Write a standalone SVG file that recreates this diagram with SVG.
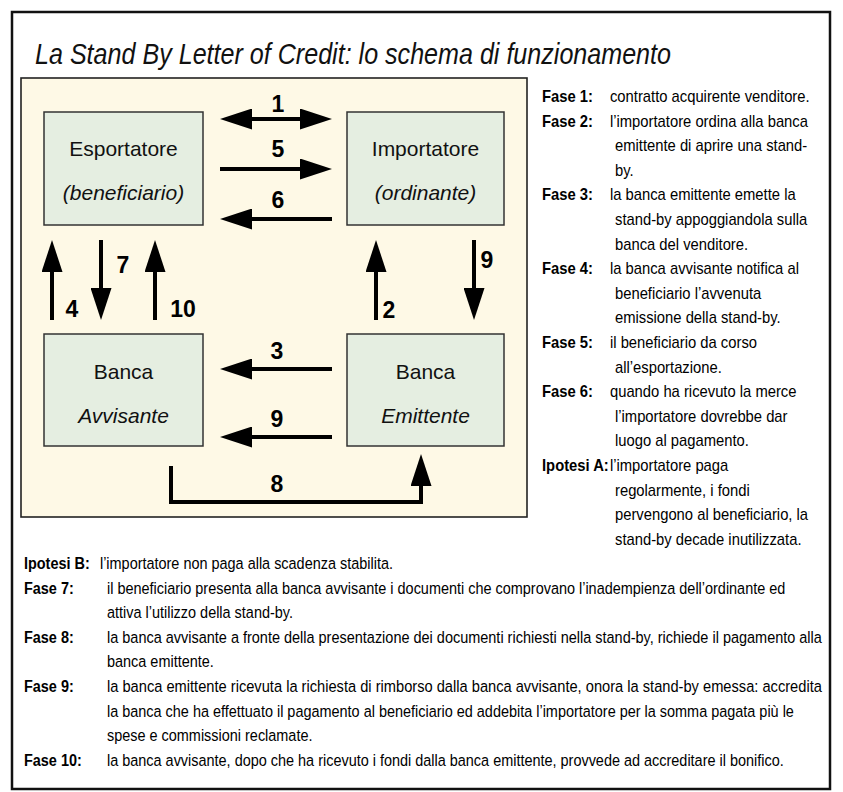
<svg xmlns="http://www.w3.org/2000/svg" width="843" height="792" viewBox="0 0 843 792">
<style>
.frame{fill:#fff;stroke:#111;stroke-width:2.5}
.panel{fill:#fef9e6;stroke:#222;stroke-width:1.6}
.box{fill:#e5eee1;stroke:#333;stroke-width:1.5}
.ntx{font-family:"Liberation Sans",Arial,sans-serif;font-size:21px;fill:#111;text-anchor:middle}
.it{font-style:italic}
.num{font-family:"Liberation Sans",Arial,sans-serif;font-size:23px;font-weight:bold;fill:#000}
.mid{text-anchor:middle}
.arr{stroke:#000;stroke-width:4;fill:none;marker-end:url(#ah)}
.lab{font-family:"Liberation Sans",Arial,sans-serif;font-size:17px;font-weight:bold;fill:#000}
.txt{font-family:"Liberation Sans",Arial,sans-serif;font-size:17px;fill:#000}
.title{font-family:"Liberation Sans",Arial,sans-serif;font-size:30px;font-style:italic;fill:#111}
</style>
<defs>
<marker id="ah" viewBox="0 0 32 21" markerWidth="32" markerHeight="21" refX="20" refY="10.5" markerUnits="userSpaceOnUse" orient="auto-start-reverse">
<path d="M0,0 L32,10.5 L0,21 z" fill="#000"/>
</marker>
</defs>
<rect class="frame" x="12" y="12" width="818" height="777"/>
<text class="title" x="35" y="64" textLength="636" lengthAdjust="spacingAndGlyphs">La Stand By Letter of Credit: lo schema di funzionamento</text>
<rect class="panel" x="21" y="78" width="506" height="439"/>

<g id="esportatore">
<rect class="box" x="44" y="112" width="159" height="113"/>
<text class="ntx" x="123.5" y="156">Esportatore</text>
<text class="ntx it" x="123.5" y="200">(beneficiario)</text>
</g>
<g id="importatore">
<rect class="box" x="347" y="112" width="157" height="113"/>
<text class="ntx" x="425.5" y="156">Importatore</text>
<text class="ntx it" x="425.5" y="200">(ordinante)</text>
</g>
<g id="banca-avvisante">
<rect class="box" x="44" y="334" width="159" height="112"/>
<text class="ntx" x="123.5" y="379">Banca</text>
<text class="ntx it" x="123.5" y="423">Avvisante</text>
</g>
<g id="banca-emittente">
<rect class="box" x="347" y="334" width="157" height="112"/>
<text class="ntx" x="425.5" y="379">Banca</text>
<text class="ntx it" x="425.5" y="423">Emittente</text>
</g>

<g id="connectors">
<line class="arr" x1="232" y1="119" x2="320" y2="119" style="marker-start:url(#ah)"/>
<line class="arr" x1="220" y1="169" x2="320" y2="169"/>
<line class="arr" x1="332" y1="219" x2="232" y2="219"/>
<line class="arr" x1="332" y1="369" x2="232" y2="369"/>
<line class="arr" x1="332" y1="437" x2="232" y2="437"/>
<line class="arr" x1="52" y1="320" x2="52" y2="252"/>
<line class="arr" x1="101" y1="240" x2="101" y2="308"/>
<line class="arr" x1="155" y1="320" x2="155" y2="252"/>
<line class="arr" x1="376" y1="320" x2="376" y2="252"/>
<line class="arr" x1="474" y1="240" x2="474" y2="308"/>
<polyline class="arr" points="171,466 171,502 421,502 421,466" stroke-linejoin="miter"/>
<text class="num mid" x="278" y="112">1</text>
<text class="num mid" x="278" y="157">5</text>
<text class="num mid" x="278" y="208">6</text>
<text class="num mid" x="277" y="359">3</text>
<text class="num mid" x="277" y="427">9</text>
<text class="num mid" x="277" y="492">8</text>
<text class="num mid" x="72" y="317">4</text>
<text class="num mid" x="123" y="273">7</text>
<text class="num mid" x="183" y="317">10</text>
<text class="num mid" x="389" y="318">2</text>
<text class="num mid" x="487" y="268">9</text>
</g>

<g id="legend-right" transform="scale(0.87 1)">
<text class="lab" x="623" y="102">Fase 1:</text>
<text class="txt" x="701.1" y="102">contratto acquirente venditore.</text>
<text class="lab" x="623" y="126.6">Fase 2:</text>
<text class="txt" x="701.1" y="126.6">l’importatore ordina alla banca</text>
<text class="txt" x="706.9" y="151.2">emittente di aprire una stand-</text>
<text class="txt" x="706.9" y="175.8">by.</text>
<text class="lab" x="623" y="200.4">Fase 3:</text>
<text class="txt" x="701.1" y="200.4">la banca emittente emette la</text>
<text class="txt" x="706.9" y="225">stand-by appoggiandola sulla</text>
<text class="txt" x="706.9" y="249.6">banca del venditore.</text>
<text class="lab" x="623" y="274.2">Fase 4:</text>
<text class="txt" x="701.1" y="274.2">la banca avvisante notifica al</text>
<text class="txt" x="706.9" y="298.8">beneficiario l’avvenuta</text>
<text class="txt" x="706.9" y="323.4">emissione della stand-by.</text>
<text class="lab" x="623" y="348">Fase 5:</text>
<text class="txt" x="701.1" y="348">il beneficiario da corso</text>
<text class="txt" x="706.9" y="372.6">all’esportazione.</text>
<text class="lab" x="623" y="397.2">Fase 6:</text>
<text class="txt" x="701.1" y="397.2">quando ha ricevuto la merce</text>
<text class="txt" x="706.9" y="421.8">l’importatore dovrebbe dar</text>
<text class="txt" x="706.9" y="446.4">luogo al pagamento.</text>
<text class="lab" x="623" y="471">Ipotesi A:</text>
<text class="txt" x="701.1" y="471">l’importatore paga</text>
<text class="txt" x="706.9" y="495.6">regolarmente, i fondi</text>
<text class="txt" x="706.9" y="520.2">pervengono al beneficiario, la</text>
<text class="txt" x="706.9" y="544.8">stand-by decade inutilizzata.</text>
</g>

<g id="legend-bottom" transform="scale(0.85 1)">
<text class="lab" x="28.2" y="569">Ipotesi B:</text>
<text class="txt" x="117.6" y="569">l’importatore non paga alla scadenza stabilita.</text>
<text class="lab" x="28.2" y="593.6">Fase 7:</text>
<text class="txt" x="125.9" y="593.6">il beneficiario presenta alla banca avvisante i documenti che comprovano l’inadempienza dell’ordinante ed</text>
<text class="txt" x="125.9" y="618.2">attiva l’utilizzo della stand-by.</text>
<text class="lab" x="28.2" y="642.8">Fase 8:</text>
<text class="txt" x="125.9" y="642.8" textLength="841" lengthAdjust="spacingAndGlyphs">la banca avvisante a fronte della presentazione dei documenti richiesti nella stand-by, richiede il pagamento alla</text>
<text class="txt" x="125.9" y="667.4">banca emittente.</text>
<text class="lab" x="28.2" y="692">Fase 9:</text>
<text class="txt" x="125.9" y="692" textLength="841" lengthAdjust="spacingAndGlyphs">la banca emittente ricevuta la richiesta di rimborso dalla banca avvisante, onora la stand-by emessa: accredita</text>
<text class="txt" x="125.9" y="716.6">la banca che ha effettuato il pagamento al beneficiario ed addebita l’importatore per la somma pagata più le</text>
<text class="txt" x="125.9" y="741.2">spese e commissioni reclamate.</text>
<text class="lab" x="28.2" y="765.8">Fase 10:</text>
<text class="txt" x="125.9" y="765.8">la banca avvisante, dopo che ha ricevuto i fondi dalla banca emittente, provvede ad accreditare il bonifico.</text>
</g>
</svg>
